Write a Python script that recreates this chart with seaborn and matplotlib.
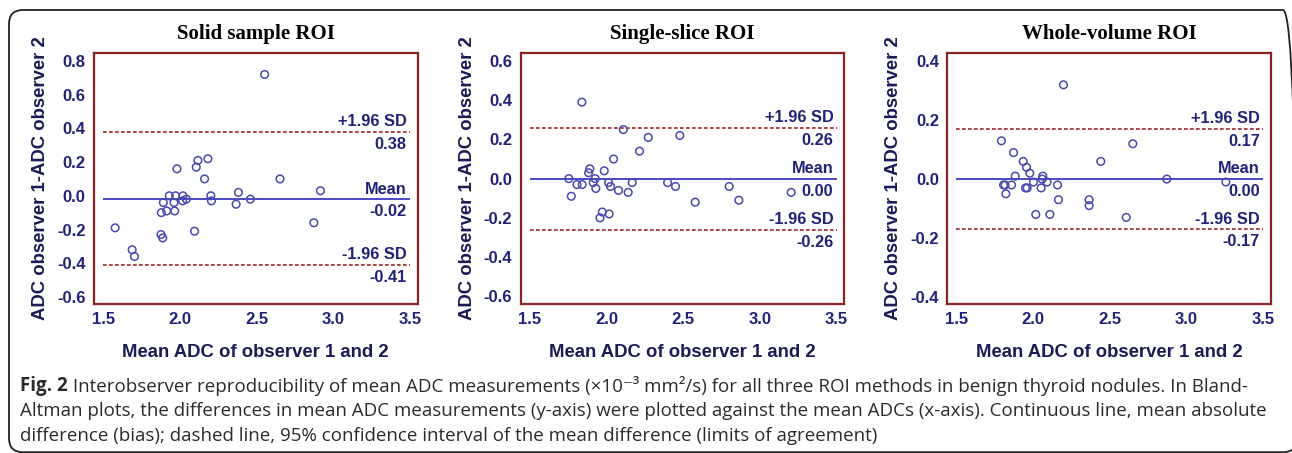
"""Bland-Altman plots: interobserver reproducibility of ADC for three ROI methods."""
import matplotlib
matplotlib.use("Agg")
import matplotlib.pyplot as plt
from matplotlib.patches import FancyBboxPatch
from matplotlib.ticker import MultipleLocator, FormatStrFormatter
import seaborn as sns

# --- data ---------------------------------------------------------------
titles = ["Solid sample ROI", "Single-slice ROI", "Whole-volume ROI"]

solid_mean_adc = [1.578, 1.689, 1.704, 1.877, 1.888, 1.879, 1.892, 1.914, 1.931, 1.962,
                  1.966, 1.972, 1.981, 2.020, 2.018, 2.042, 2.096, 2.107, 2.118, 2.161,
                  2.183, 2.202, 2.206, 2.367, 2.382, 2.460, 2.553, 2.653, 2.874, 2.917]
solid_diff = [-0.19, -0.32, -0.36, -0.23, -0.25, -0.10, -0.04, -0.09, 0.00, -0.04,
              -0.09, 0.00, 0.16, 0.00, -0.03, -0.02, -0.21, 0.17, 0.21, 0.10,
              0.22, 0.00, -0.03, -0.05, 0.02, -0.02, 0.72, 0.10, -0.16, 0.03]

single_mean_adc = [1.754, 1.770, 1.807, 1.839, 1.841, 1.883, 1.891, 1.913, 1.926, 1.930,
                   1.957, 1.972, 1.985, 2.013, 2.017, 2.026, 2.046, 2.078, 2.109, 2.141,
                   2.167, 2.215, 2.272, 2.398, 2.450, 2.478, 2.578, 2.800, 2.863, 3.204]
single_diff = [0.00, -0.09, -0.03, 0.39, -0.03, 0.03, 0.05, -0.02, 0.00, -0.05,
               -0.20, -0.17, 0.04, -0.02, -0.18, -0.04, 0.10, -0.06, 0.25, -0.07,
               -0.02, 0.14, 0.21, -0.02, -0.04, 0.22, -0.12, -0.04, -0.11, -0.07]

whole_mean_adc = [1.793, 1.807, 1.817, 1.822, 1.859, 1.872, 1.883, 1.935, 1.950, 1.957,
                  1.961, 1.978, 2.002, 2.017, 2.052, 2.059, 2.063, 2.091, 2.109, 2.159,
                  2.165, 2.198, 2.365, 2.365, 2.441, 2.607, 2.650, 2.872, 3.257]
whole_diff = [0.13, -0.02, -0.02, -0.05, -0.02, 0.09, 0.01, 0.06, -0.03, 0.04,
              -0.03, 0.02, -0.01, -0.12, -0.03, 0.00, 0.01, -0.01, -0.12, -0.02,
              -0.07, 0.32, -0.07, -0.09, 0.06, -0.13, 0.12, 0.00, -0.01]

bias = [-0.02, 0.00, 0.00]
upper_loa = [0.38, 0.26, 0.17]
lower_loa = [-0.41, -0.26, -0.17]

ylims = [(-0.642, 0.849), (-0.639, 0.642), (-0.424, 0.429)]
ymajor = [0.2, 0.2, 0.2]
yminor = [0.1, 0.1, 0.1]

caption_bold = "Fig. 2"
caption_rest = (" Interobserver reproducibility of mean ADC measurements (\u00d710\u207b\u00b3 mm\u00b2/s) "
                "for all three ROI methods in benign thyroid nodules. In Bland-")
caption_lines = [
    "Altman plots, the differences in mean ADC measurements (y-axis) were plotted against the "
    "mean ADCs (x-axis). Continuous line, mean absolute",
    "difference (bias); dashed line, 95% confidence interval of the mean difference (limits of agreement)",
]

# --- style ---------------------------------------------------------------
sns.set_style("white")
plt.rcParams["font.family"] = ["Liberation Sans", "DejaVu Sans"]
plt.rcParams["axes.unicode_minus"] = False

FRAME = "#8c2323"
NAVY = "#22227a"
LABEL = "#1b1b55"
POINT = "#4a4ab0"
MEAN_LINE = "#3a3abf"
LOA_LINE = "#a02525"

W, H = 1292, 453
fig = plt.figure(figsize=(W / 100, H / 100), dpi=100)
fig.patch.set_facecolor("white")

lefts = [94, 520.7, 947.3]
ax_w, ax_top, ax_bot = 323.5, 52.7, 304

datasets = [(solid_mean_adc, solid_diff), (single_mean_adc, single_diff),
            (whole_mean_adc, whole_diff)]

for i, (xs, ys) in enumerate(datasets):
    ax = fig.add_axes([lefts[i] / W, 1 - ax_bot / H, ax_w / W, (ax_bot - ax_top) / H])
    sns.scatterplot(x=xs, y=ys, ax=ax, marker="o", s=30, facecolors="none",
                    edgecolors=POINT, linewidth=1.1, zorder=3)

    # bias and limits of agreement
    ax.hlines(bias[i], 1.5, 3.5, color=MEAN_LINE, lw=1.3, zorder=2)
    for v in (upper_loa[i], lower_loa[i]):
        ax.hlines(v, 1.5, 3.5, color=LOA_LINE, lw=1.2, linestyles=(0, (2.2, 1.4)), zorder=2)

    labels = [("+1.96 SD", upper_loa[i]), ("Mean", bias[i]), ("-1.96 SD", lower_loa[i])]
    for txt, v in labels:
        ax.annotate(txt, xy=(3.48, v), xytext=(0, 7.3), textcoords="offset points",
                    ha="right", va="center", fontsize=11.8, fontweight="bold", color=NAVY)
        ax.annotate(f"{v:.2f}", xy=(3.48, v), xytext=(0, -9), textcoords="offset points",
                    ha="right", va="center", fontsize=11.8, fontweight="bold", color=NAVY)

    ax.set_xlim(1.44, 3.55)
    ax.set_ylim(*ylims[i])
    ax.set_xticks([1.5, 2.0, 2.5, 3.0, 3.5])
    ax.xaxis.set_major_formatter(FormatStrFormatter("%.1f"))
    ax.yaxis.set_major_locator(MultipleLocator(ymajor[i]))
    ax.yaxis.set_minor_locator(MultipleLocator(yminor[i]))
    ax.yaxis.set_major_formatter(FormatStrFormatter("%.1f"))

    ax.tick_params(axis="both", which="major", direction="in", length=5, width=1.5,
                   color=FRAME, labelsize=12, labelcolor=NAVY, pad=6)
    ax.tick_params(axis="y", which="minor", direction="in", length=3, width=1.2, color=FRAME)
    ax.tick_params(axis="x", which="major", pad=6)
    for lab in ax.get_xticklabels() + ax.get_yticklabels():
        lab.set_fontweight("bold")
    for sp in ax.spines.values():
        sp.set_color(FRAME)
        sp.set_linewidth(1.6)

    ax.set_title(titles[i], fontfamily="Liberation Serif", fontweight="bold",
                 fontsize=15, color="black", pad=10)
    ax.set_xlabel("Mean ADC of observer 1 and 2", fontsize=13.3, fontweight="bold",
                  color=LABEL, labelpad=12)
    ax.set_ylabel("ADC observer 1-ADC observer 2", fontsize=13.3, fontweight="bold",
                  color=LABEL, labelpad=6)

# --- caption -------------------------------------------------------------
cap_font = ["Open Sans", "DejaVu Sans"]
cap_size = 13.5
cap_color = "#2b2b2b"
fig.canvas.draw()
renderer = fig.canvas.get_renderer()
t_bold = fig.text(20 / W, 1 - 386 / H, caption_bold, fontsize=cap_size, fontweight="bold",
                  family=cap_font, color=cap_color, va="center", ha="left")
bb = t_bold.get_window_extent(renderer=renderer)
fig.text(bb.x1 / W, 1 - 386 / H, caption_rest, fontsize=cap_size, family=cap_font,
         color=cap_color, va="center", ha="left")
for k, line in enumerate(caption_lines):
    fig.text(20 / W, 1 - (411 + 25 * k) / H, line, fontsize=cap_size, family=cap_font,
             color=cap_color, va="center", ha="left")

# rounded outer frame (pixel coordinates), right edge runs off the image
frame = FancyBboxPatch((9, 0.8), 1288, H - 10 - 0.8,
                       boxstyle="round,pad=0,rounding_size=14", transform=None,
                       fill=False, ec="#222222", lw=1.3)
fig.patches.append(frame)

fig.savefig("out.png", dpi=100)
